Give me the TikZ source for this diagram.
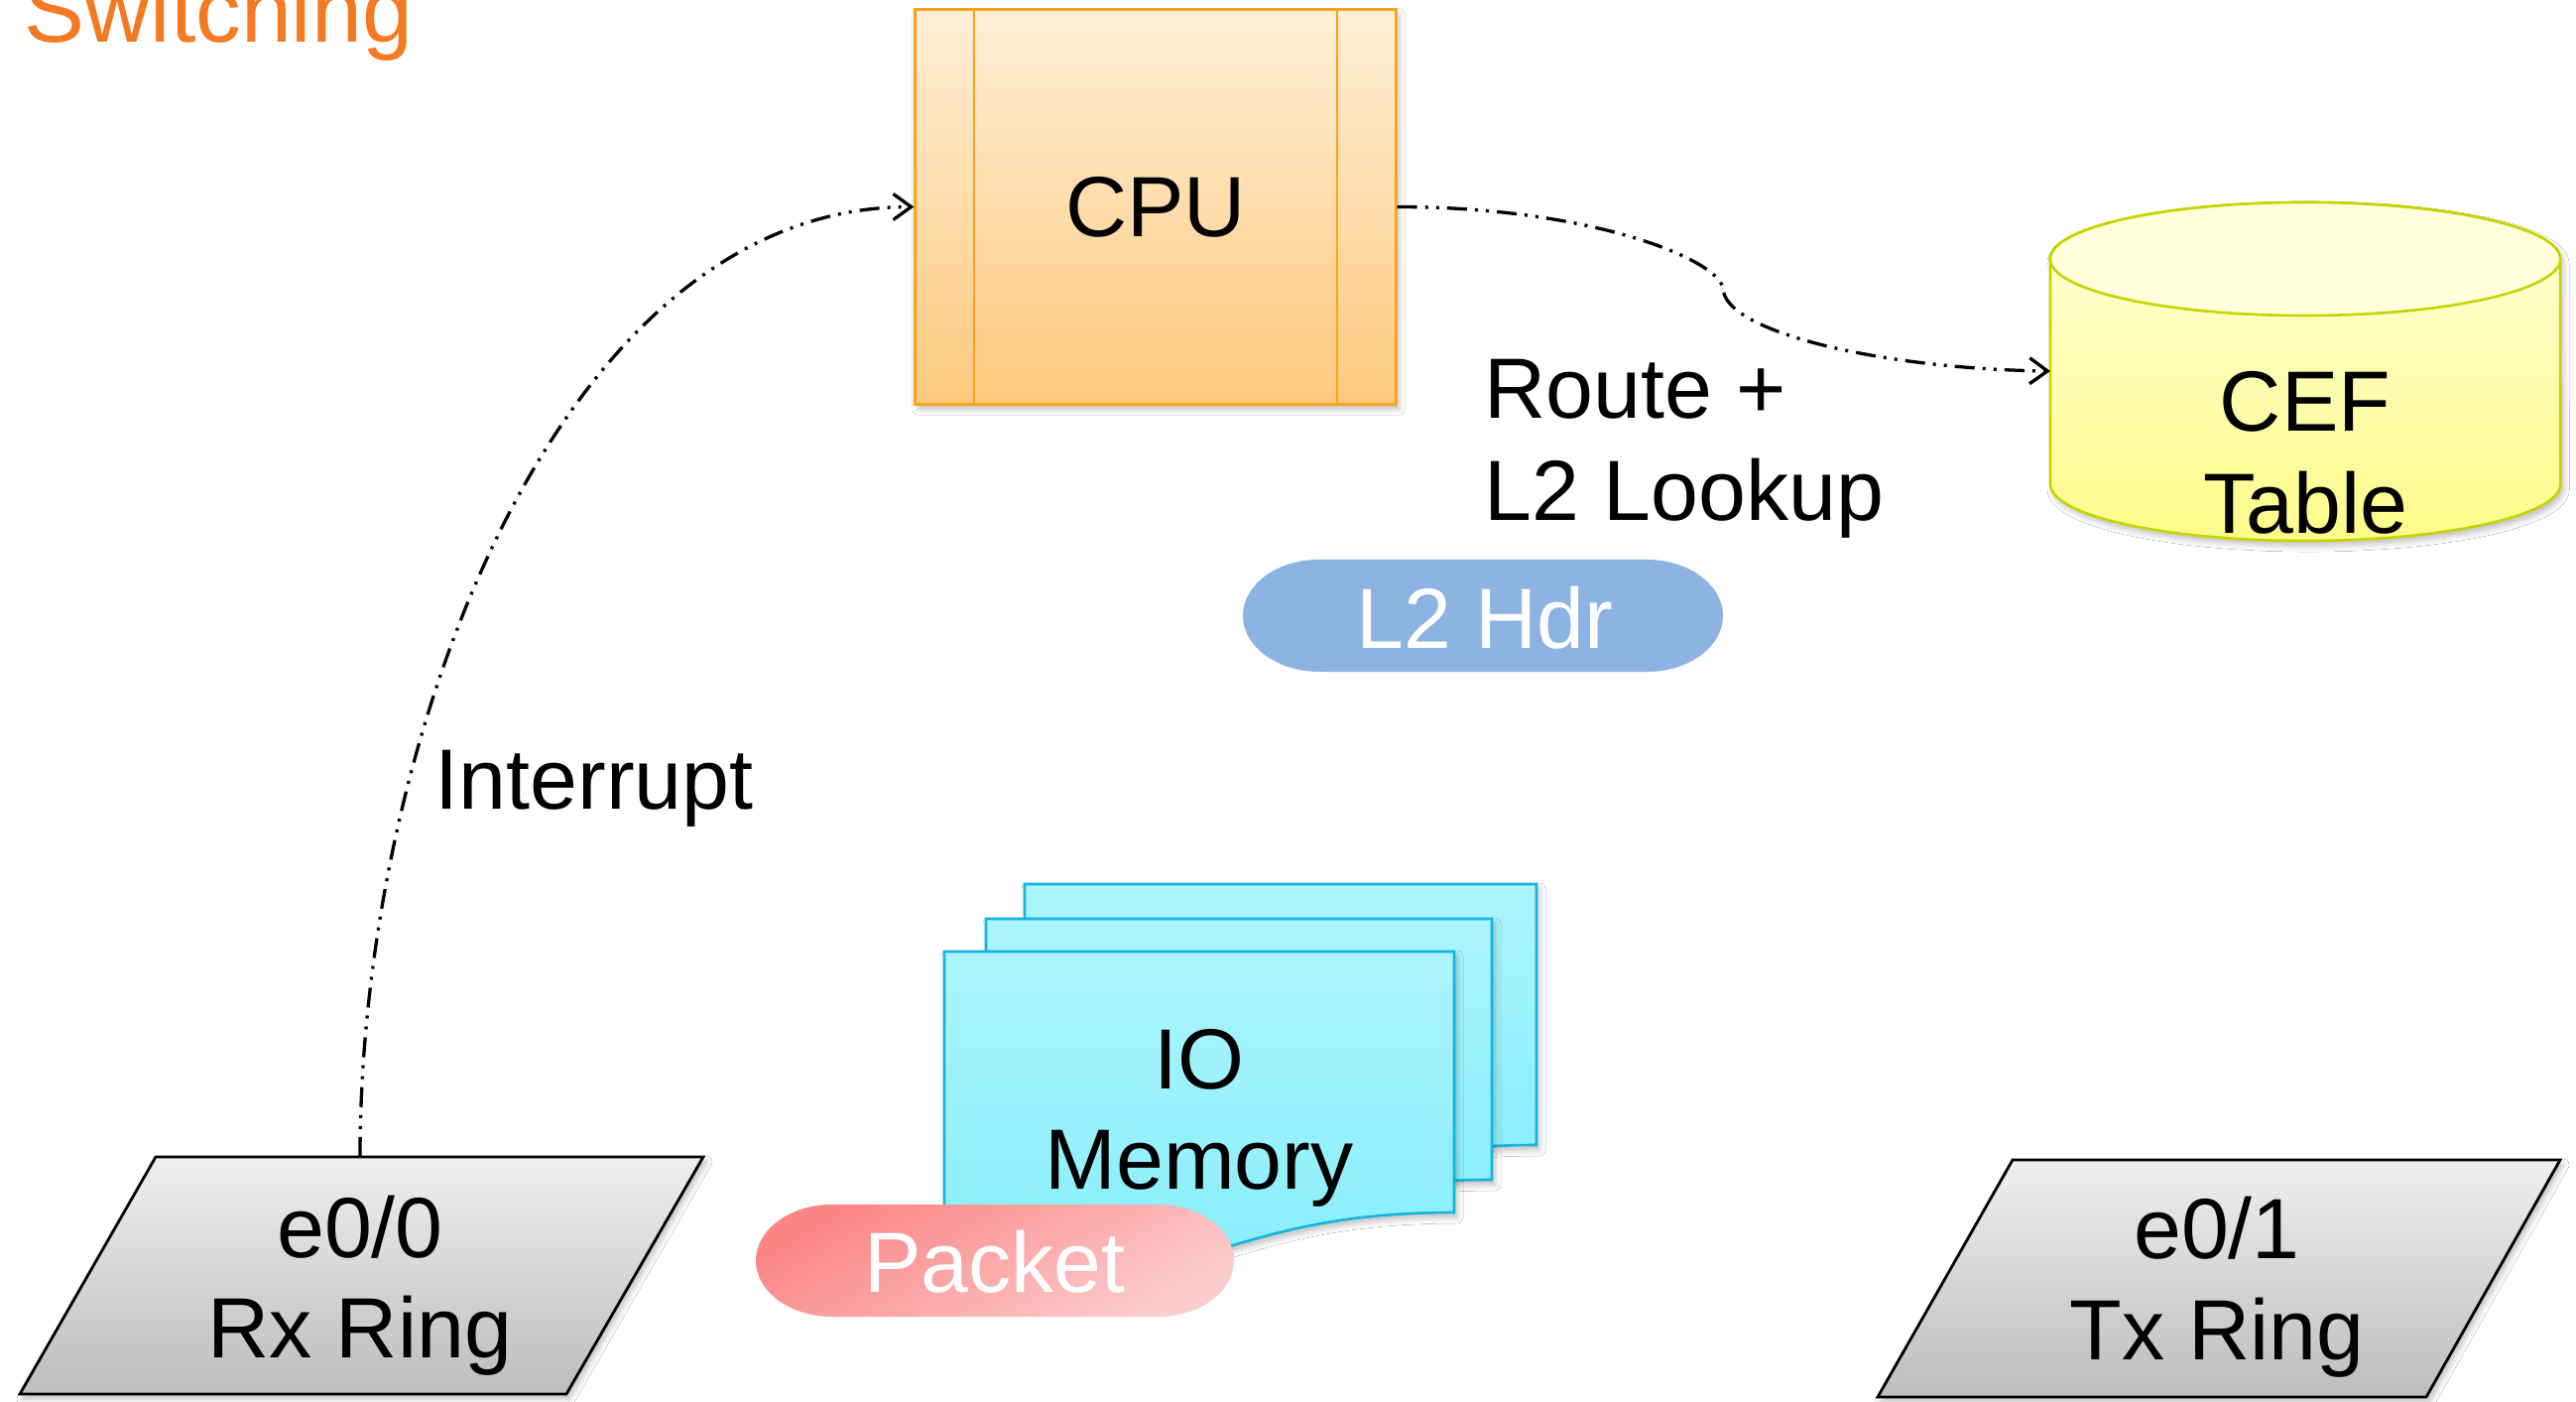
\documentclass[tikz,border=0pt]{standalone}
\usepackage{fontspec}
\setmainfont{Liberation Sans}
\usetikzlibrary{arrows.meta,shadows.blur}

\definecolor{titleorange}{HTML}{F37A22}
\definecolor{cputop}{HTML}{FFEFD7}
\definecolor{cpubot}{HTML}{FEC97E}
\definecolor{cpuline}{HTML}{FBA31C}
\definecolor{ceftop}{HTML}{FFFFDC}
\definecolor{cefbot}{HTML}{FCFC8A}
\definecolor{cefline}{HTML}{C6D400}
\definecolor{memtop}{HTML}{ACF4FD}
\definecolor{membot}{HTML}{82EEFB}
\definecolor{memline}{HTML}{16B4DE}
\definecolor{hdrblue}{HTML}{8DB3E2}
\definecolor{pkttop}{HTML}{FB8585}
\definecolor{pktbot}{HTML}{FCCDCD}
\definecolor{ringtop}{HTML}{EFEFEF}
\definecolor{ringbot}{HTML}{BDBDBD}

\tikzset{
  lbl/.style={font=\fontsize{24.5}{29.4}\selectfont, inner sep=0pt},
  softshadow/.style={blur shadow={shadow xshift=0.03cm, shadow yshift=-0.05cm,
      shadow blur radius=0.06cm, shadow opacity=25}},
  flow/.style={line width=0.033cm,
      dash pattern=on 5.7pt off 2.3pt on 0.85pt off 2.3pt on 0.85pt off 2.3pt,
      -{Straight Barb[length=0.18cm,width=0.26cm]}},
  cpubox/.style={lbl, draw=cpuline, line width=0.03cm, top color=cputop,
      bottom color=cpubot, minimum width=4.84cm, minimum height=3.97cm, softshadow},
  ring/.style={draw=black, line width=0.028cm, top color=ringtop,
      bottom color=ringbot, softshadow},
  memsheet/.style={draw=memline, line width=0.026cm, top color=memtop,
      bottom color=membot, softshadow},
}

\begin{document}
\begin{tikzpicture}[x=0.01cm, y=-0.01cm]
  \useasboundingbox (0,0) rectangle (2597,1413);
  \fill[white] (0,0) rectangle (2597,1413);

  % heading, partly above the top edge
  \node[lbl, font=\fontsize{26}{31}\selectfont, text=titleorange, anchor=base west]
    (title) at (24,43) {Switching};

  % CPU block with its two side bars
  \node[cpubox] (cpu) at (1165,208.5) {CPU};
  \draw[cpuline, line width=0.02cm] ([xshift=0.61cm]cpu.north west) -- ([xshift=0.61cm]cpu.south west);
  \draw[cpuline, line width=0.02cm] ([xshift=-0.61cm]cpu.north east) -- ([xshift=-0.61cm]cpu.south east);

  % CEF table drawn as a cylinder
  \path[softshadow, draw=cefline, line width=0.026cm, top color=ceftop, bottom color=cefbot]
    (2067,261) -- (2067,488)
    arc[start angle=180, end angle=360, x radius=2.57cm, y radius=0.57cm]
    -- (2581,261)
    arc[start angle=0, end angle=180, x radius=2.57cm, y radius=0.57cm] -- cycle;
  \draw[cefline, line width=0.026cm, fill=ceftop]
    (2324,261) ellipse[x radius=2.57cm, y radius=0.57cm];
  \node[lbl, anchor=base] (cefA) at (2324,435) {CEF};
  \node[lbl, anchor=base] (cefB) at (2324,538) {Table};
  \coordinate (cefin) at (2067,374);

  % lookup caption
  \node[lbl, anchor=base west] (routeA) at (1496,422) {Route +};
  \node[lbl, anchor=base west] (routeB) at (1496,525) {L2 Lookup};

  % L2 header token
  \fill[hdrblue] (1330,564) -- (1660,564)
    arc[start angle=90, end angle=-90, x radius=0.77cm, y radius=0.565cm]
    -- (1330,677)
    arc[start angle=270, end angle=90, x radius=0.77cm, y radius=0.565cm] -- cycle;
  \node[lbl, text=white, anchor=base] (l2hdr) at (1497,653) {L2 Hdr};

  \node[lbl, anchor=base west] (intr) at (438,815) {Interrupt};

  % stacked IO memory sheets, back to front
  \path[memsheet] (1033,891) -- (1549,891) -- (1549,1154)
    .. controls (1291,1154) and (1291,1254) .. (1033,1197) -- cycle;
  \path[memsheet] (994,926) -- (1504,926) -- (1504,1189)
    .. controls (1249,1189) and (1249,1289) .. (994,1232) -- cycle;
  \path[memsheet] (952,959) -- (1466,959) -- (1466,1222)
    .. controls (1209,1222) and (1209,1322) .. (952,1265) -- cycle;
  \node[lbl, anchor=base] (ioA) at (1209,1097) {IO};
  \node[lbl, anchor=base] (ioB) at (1209,1198) {Memory};

  % packet token
  \shade[top color=pkttop, bottom color=pktbot, shading angle=30]
    (839,1214) -- (1167,1214)
    arc[start angle=90, end angle=-90, x radius=0.77cm, y radius=0.565cm]
    -- (839,1327)
    arc[start angle=270, end angle=90, x radius=0.77cm, y radius=0.565cm] -- cycle;
  \node[lbl, text=white, anchor=base] (pkt) at (1003,1302) {Packet};

  % interface rings
  \path[ring] (157,1166) -- (709,1166) -- (571,1405) -- (20,1405) -- cycle;
  \node[lbl, anchor=base] (rxA) at (363,1267) {e0/0};
  \node[lbl, anchor=base] (rxB) at (363,1368) {Rx Ring};
  \coordinate (rxtop) at (363,1166);

  \path[ring] (2029,1169) -- (2581,1169) -- (2446,1408) -- (1893,1408) -- cycle;
  \node[lbl, anchor=base] (txA) at (2235,1268) {e0/1};
  \node[lbl, anchor=base] (txB) at (2235,1370) {Tx Ring};

  % connectors
  \draw[flow] (rxtop) .. controls (363,750) and (560,208.5) .. (cpu.west);
  \draw[flow] (cpu.east) .. controls (1600,208.5) and (1730,260) .. (1737,290)
    .. controls (1737,335) and (1900,372) .. (cefin);
\end{tikzpicture}
\end{document}
